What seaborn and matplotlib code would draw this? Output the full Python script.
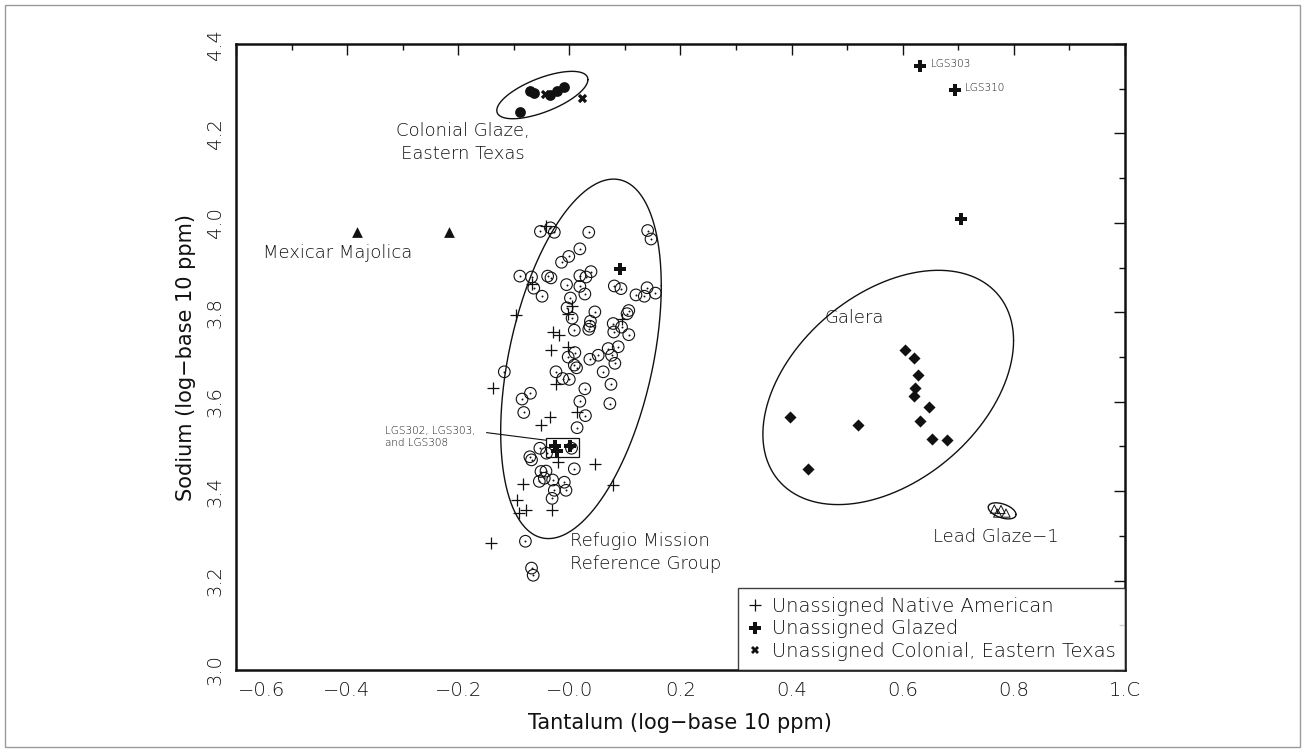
import numpy as np
import pandas as pd
import matplotlib
matplotlib.use("Agg")
import matplotlib.pyplot as plt
from matplotlib.lines import Line2D
from matplotlib.patches import Rectangle
from matplotlib.transforms import ScaledTranslation
import seaborn as sns

# ---- data: log10 Tantalum (x) vs log10 Sodium (y), ppm ----
refugio_ta = [-0.052, -0.034, -0.027, 0.035, 0.141, 0.147, 0.019, -0.001, -0.014, -0.089,
              -0.068, -0.039, -0.033, 0.039, 0.019, 0.030, -0.005, 0.019, -0.064, -0.049,
              0.028, 0.081, 0.093, 0.140, 0.155, 0.120, 0.135, 0.002, -0.004, 0.005,
              0.046, 0.038, 0.037, 0.035, 0.107, 0.104, 0.079, 0.094, 0.080, 0.107,
              0.009, 0.010, 0.070, 0.088, 0.052, 0.076, -0.002, 0.037, 0.082, 0.009,
              0.013, -0.024, -0.012, 0.000, 0.061, 0.075, -0.117, 0.028, 0.019, 0.073,
              -0.070, -0.085, -0.082, 0.029, 0.014, -0.053, -0.071, -0.068, -0.041, 0.004,
              0.009, -0.051, -0.042, -0.054, -0.045, -0.030, -0.009, -0.006, -0.027, -0.031,
              -0.079, -0.068, -0.065]
refugio_na = [3.981, 3.989, 3.979, 3.979, 3.983, 3.964, 3.942, 3.925, 3.912, 3.881,
              3.879, 3.881, 3.877, 3.891, 3.882, 3.879, 3.862, 3.858, 3.854, 3.836,
              3.841, 3.859, 3.853, 3.855, 3.843, 3.839, 3.836, 3.832, 3.810, 3.787,
              3.801, 3.780, 3.769, 3.762, 3.804, 3.797, 3.775, 3.767, 3.756, 3.750,
              3.760, 3.710, 3.719, 3.723, 3.704, 3.704, 3.700, 3.695, 3.686, 3.682,
              3.676, 3.667, 3.652, 3.650, 3.667, 3.639, 3.667, 3.629, 3.601, 3.596,
              3.619, 3.606, 3.576, 3.569, 3.542, 3.496, 3.477, 3.470, 3.485, 3.496,
              3.450, 3.444, 3.445, 3.422, 3.429, 3.425, 3.420, 3.402, 3.402, 3.384,
              3.288, 3.228, 3.212]

native_ta = [-0.042, -0.067, -0.096, 0.005, -0.002, -0.029, -0.019, -0.033, -0.003, 0.094,
             -0.024, -0.137, 0.014, -0.034, -0.051, 0.046, 0.078, -0.084, -0.094, -0.078,
             -0.090, -0.031, -0.141, -0.021]
native_na = [3.994, 3.864, 3.793, 3.815, 3.797, 3.756, 3.750, 3.715, 3.723, 3.786,
             3.639, 3.630, 3.576, 3.565, 3.547, 3.460, 3.414, 3.416, 3.381, 3.358,
             3.351, 3.358, 3.284, 3.466]

glazed_ta = [0.092, -0.026, -0.023, 0.002, 0.632, 0.694, 0.705]
glazed_na = [3.897, 3.500, 3.489, 3.502, 4.350, 4.297, 4.009]
glazed_names = ["", "", "", "", "LGS303", "LGS310", ""]

colonial_ta = [-0.071, -0.063, -0.034, -0.022, -0.010, -0.089]
colonial_na = [4.296, 4.291, 4.287, 4.296, 4.304, 4.249]

colonial_unassigned_ta = [-0.043, 0.022]
colonial_unassigned_na = [4.289, 4.279]

majolica_ta = [-0.382, -0.216]
majolica_na = [3.980, 3.980]

galera_ta = [0.604, 0.621, 0.627, 0.622, 0.620, 0.648, 0.631, 0.652, 0.680, 0.398, 0.520, 0.430]
galera_na = [3.715, 3.698, 3.659, 3.631, 3.613, 3.588, 3.556, 3.517, 3.514, 3.565, 3.547, 3.449]

lead_ta = [0.765, 0.777, 0.786, 0.771]
lead_na = [3.360, 3.359, 3.351, 3.351]

# group ellipses: centre x, centre y, half-width x, half-height y, correlation
refugio_ell = (0.021, 3.696, 0.1445, 0.402, 0.406)
colonial_ell = (-0.0485, 4.286, 0.082, 0.053, 0.65)
galera_ell = (0.574, 3.632, 0.2256, 0.262, 0.40)
lead_ell = (0.779, 3.356, 0.025, 0.018, -0.45)

x_ticks = [-0.6, -0.4, -0.2, 0.0, 0.2, 0.4, 0.6, 0.8, 1.0]
x_ticklabels = ["\u22120.6", "\u22120.4", "\u22120.2", "\u22120.0", "0.2", "0.4", "0.6", "0.8", "1.C"]
y_ticks = [3.0, 3.2, 3.4, 3.6, 3.8, 4.0, 4.2, 4.4]
y_ticklabels = ["3.0", "3.2", "3.4", "3.6", "3.8", "4.0", "4.2", "4.4"]

# ---- styling ----
sns.set_style("white")
plt.rcParams["font.family"] = ["DejaVu Sans"]
plt.rcParams["font.weight"] = "light"
INK = "#111111"

fig = plt.figure(figsize=(13.05, 7.52), dpi=100)
ax = fig.add_axes([0.1808, 0.1090, 0.6812, 0.8324])

# outer frame around the figure
fig.patches.append(Rectangle((0.004, 0.006), 0.992, 0.988, transform=fig.transFigure,
                             fill=False, edgecolor="#9a9a9a", linewidth=1.0))


def ellipse_points(cx, cy, sx, sy, r, n=400):
    t = np.linspace(0, 2 * np.pi, n)
    ex = cx + sx * np.cos(t)
    ey = cy + sy * (r * np.cos(t) + np.sqrt(1 - r * r) * np.sin(t))
    return ex, ey


for ell in (refugio_ell, colonial_ell, galera_ell, lead_ell):
    ex, ey = ellipse_points(*ell)
    ax.plot(ex, ey, color=INK, lw=1.0, zorder=2)

# Refugio Mission reference group: open circles with centre dot
ref = pd.DataFrame({"ta": refugio_ta, "na": refugio_na})
sns.scatterplot(data=ref, x="ta", y="na", marker="o", s=70, facecolor="none",
                edgecolor=INK, linewidth=0.8, ax=ax, zorder=3)
sns.scatterplot(data=ref, x="ta", y="na", marker="o", s=2, color=INK,
                linewidth=0, ax=ax, zorder=3)

# Unassigned Native American
nat = pd.DataFrame({"ta": native_ta, "na": native_na})
sns.scatterplot(data=nat, x="ta", y="na", marker="+", s=80, color=INK,
                linewidth=0.9, ax=ax, zorder=4)

# Unassigned Glazed
gl = pd.DataFrame({"ta": glazed_ta, "na": glazed_na})
sns.scatterplot(data=gl, x="ta", y="na", marker="P", s=70, color=INK,
                linewidth=0, ax=ax, zorder=5)

# Colonial glaze, eastern Texas
col = pd.DataFrame({"ta": colonial_ta, "na": colonial_na})
sns.scatterplot(data=col, x="ta", y="na", marker="o", s=60, color=INK,
                linewidth=0, ax=ax, zorder=4)
colu = pd.DataFrame({"ta": colonial_unassigned_ta, "na": colonial_unassigned_na})
sns.scatterplot(data=colu, x="ta", y="na", marker="X", s=45, color=INK,
                linewidth=0, ax=ax, zorder=5)

# Mexican majolica
maj = pd.DataFrame({"ta": majolica_ta, "na": majolica_na})
sns.scatterplot(data=maj, x="ta", y="na", marker="^", s=60, color=INK,
                linewidth=0, ax=ax, zorder=4)

# Galera
gal = pd.DataFrame({"ta": galera_ta, "na": galera_na})
sns.scatterplot(data=gal, x="ta", y="na", marker="D", s=38, color=INK,
                linewidth=0, ax=ax, zorder=4)

# Lead glaze-1
lead = pd.DataFrame({"ta": lead_ta, "na": lead_na})
sns.scatterplot(data=lead, x="ta", y="na", marker="^", s=35, facecolor="none",
                edgecolor=INK, linewidth=0.7, ax=ax, zorder=4)

# box around the three glazed samples inside the Refugio group
bx = [glazed_ta[i] for i in (1, 2, 3)]
by = [glazed_na[i] for i in (1, 2, 3)]
x0, x1 = min(bx) - 0.016, max(bx) + 0.016
y0, y1 = min(by) - 0.012, max(by) + 0.016
ax.add_patch(Rectangle((x0, y0), x1 - x0, y1 - y0, fill=False, edgecolor=INK, lw=0.9, zorder=6))
ax.plot([-0.149, x0], [3.531, y1 - 0.004], color=INK, lw=0.8, zorder=6)
ax.text(-0.332, 3.521, "LGS302, LGS303,\nand LGS308", fontsize=7.5, ha="left", va="center",
        linespacing=1.2, color=INK)

# sample labels
for xv, yv, name in zip(glazed_ta, glazed_na, glazed_names):
    if name:
        ax.text(xv + 0.018, yv + 0.005, name, fontsize=7.5, ha="left", va="center", color=INK)

# group labels
lab_kw = dict(fontsize=13, color=INK)
ax.text(-0.191, 4.18, "Colonial Glaze,\nEastern Texas", ha="center", va="center",
        linespacing=1.35, **lab_kw)
ax.text(-0.552, 3.933, "Mexicar Majolica", ha="left", va="center", **lab_kw)
ax.text(0.001, 3.263, "Refugio Mission\nReference Group", ha="left", va="center",
        linespacing=1.35, **lab_kw)
ax.text(0.459, 3.788, "Galera", ha="left", va="center", **lab_kw)
ax.text(0.655, 3.298, "Lead Glaze\u22121", ha="left", va="center", **lab_kw)

# axes
ax.set_xlim(-0.6, 1.0)
ax.set_ylim(3.0, 4.4)
ax.set_xticks(x_ticks)
ax.set_xticklabels(x_ticklabels)
ax.set_yticks(y_ticks)
ax.set_yticklabels(y_ticklabels, rotation=90, va="center")
ax.set_xticks(np.arange(-0.5, 1.0, 0.2), minor=True)
ax.set_yticks(np.arange(3.1, 4.4, 0.2), minor=True)
ax.tick_params(which="both", direction="in", top=True, right=True, colors=INK,
               labelsize=14)
ax.tick_params(which="major", length=8, width=1.0, pad=8)
ax.tick_params(which="minor", length=4, width=1.0)
for sp in ax.spines.values():
    sp.set_visible(True)
    sp.set_linewidth(1.8)
    sp.set_color(INK)
ax.set_xlabel("Tantalum (log\u2212base 10 ppm)", fontsize=15, labelpad=9, color=INK)
ax.set_ylabel("Sodium (log\u2212base 10 ppm)", fontsize=15, labelpad=7, color=INK)

# first x tick label sits clear of the corner
first = ax.get_xticklabels()[0]
first.set_transform(first.get_transform() + ScaledTranslation(0.26, 0, fig.dpi_scale_trans))

# legend
handles = [
    Line2D([], [], marker="+", linestyle="none", color=INK, markersize=9, markeredgewidth=0.9),
    Line2D([], [], marker="P", linestyle="none", color=INK, markersize=8, markeredgewidth=0),
    Line2D([], [], marker="X", linestyle="none", color=INK, markersize=6, markeredgewidth=0),
]
labels = ["Unassigned Native American", "Unassigned Glazed", "Unassigned Colonial, Eastern Texas"]
leg = ax.legend(handles, labels, loc="lower right", borderaxespad=0, fontsize=14,
                frameon=True, fancybox=False, handlelength=0.8, handletextpad=0.5,
                labelspacing=0.2, borderpad=0.45)
leg.get_frame().set_edgecolor(INK)
leg.get_frame().set_linewidth(1.0)
for t in leg.get_texts():
    t.set_color(INK)

fig.savefig("out.png", dpi=100, facecolor="white")
